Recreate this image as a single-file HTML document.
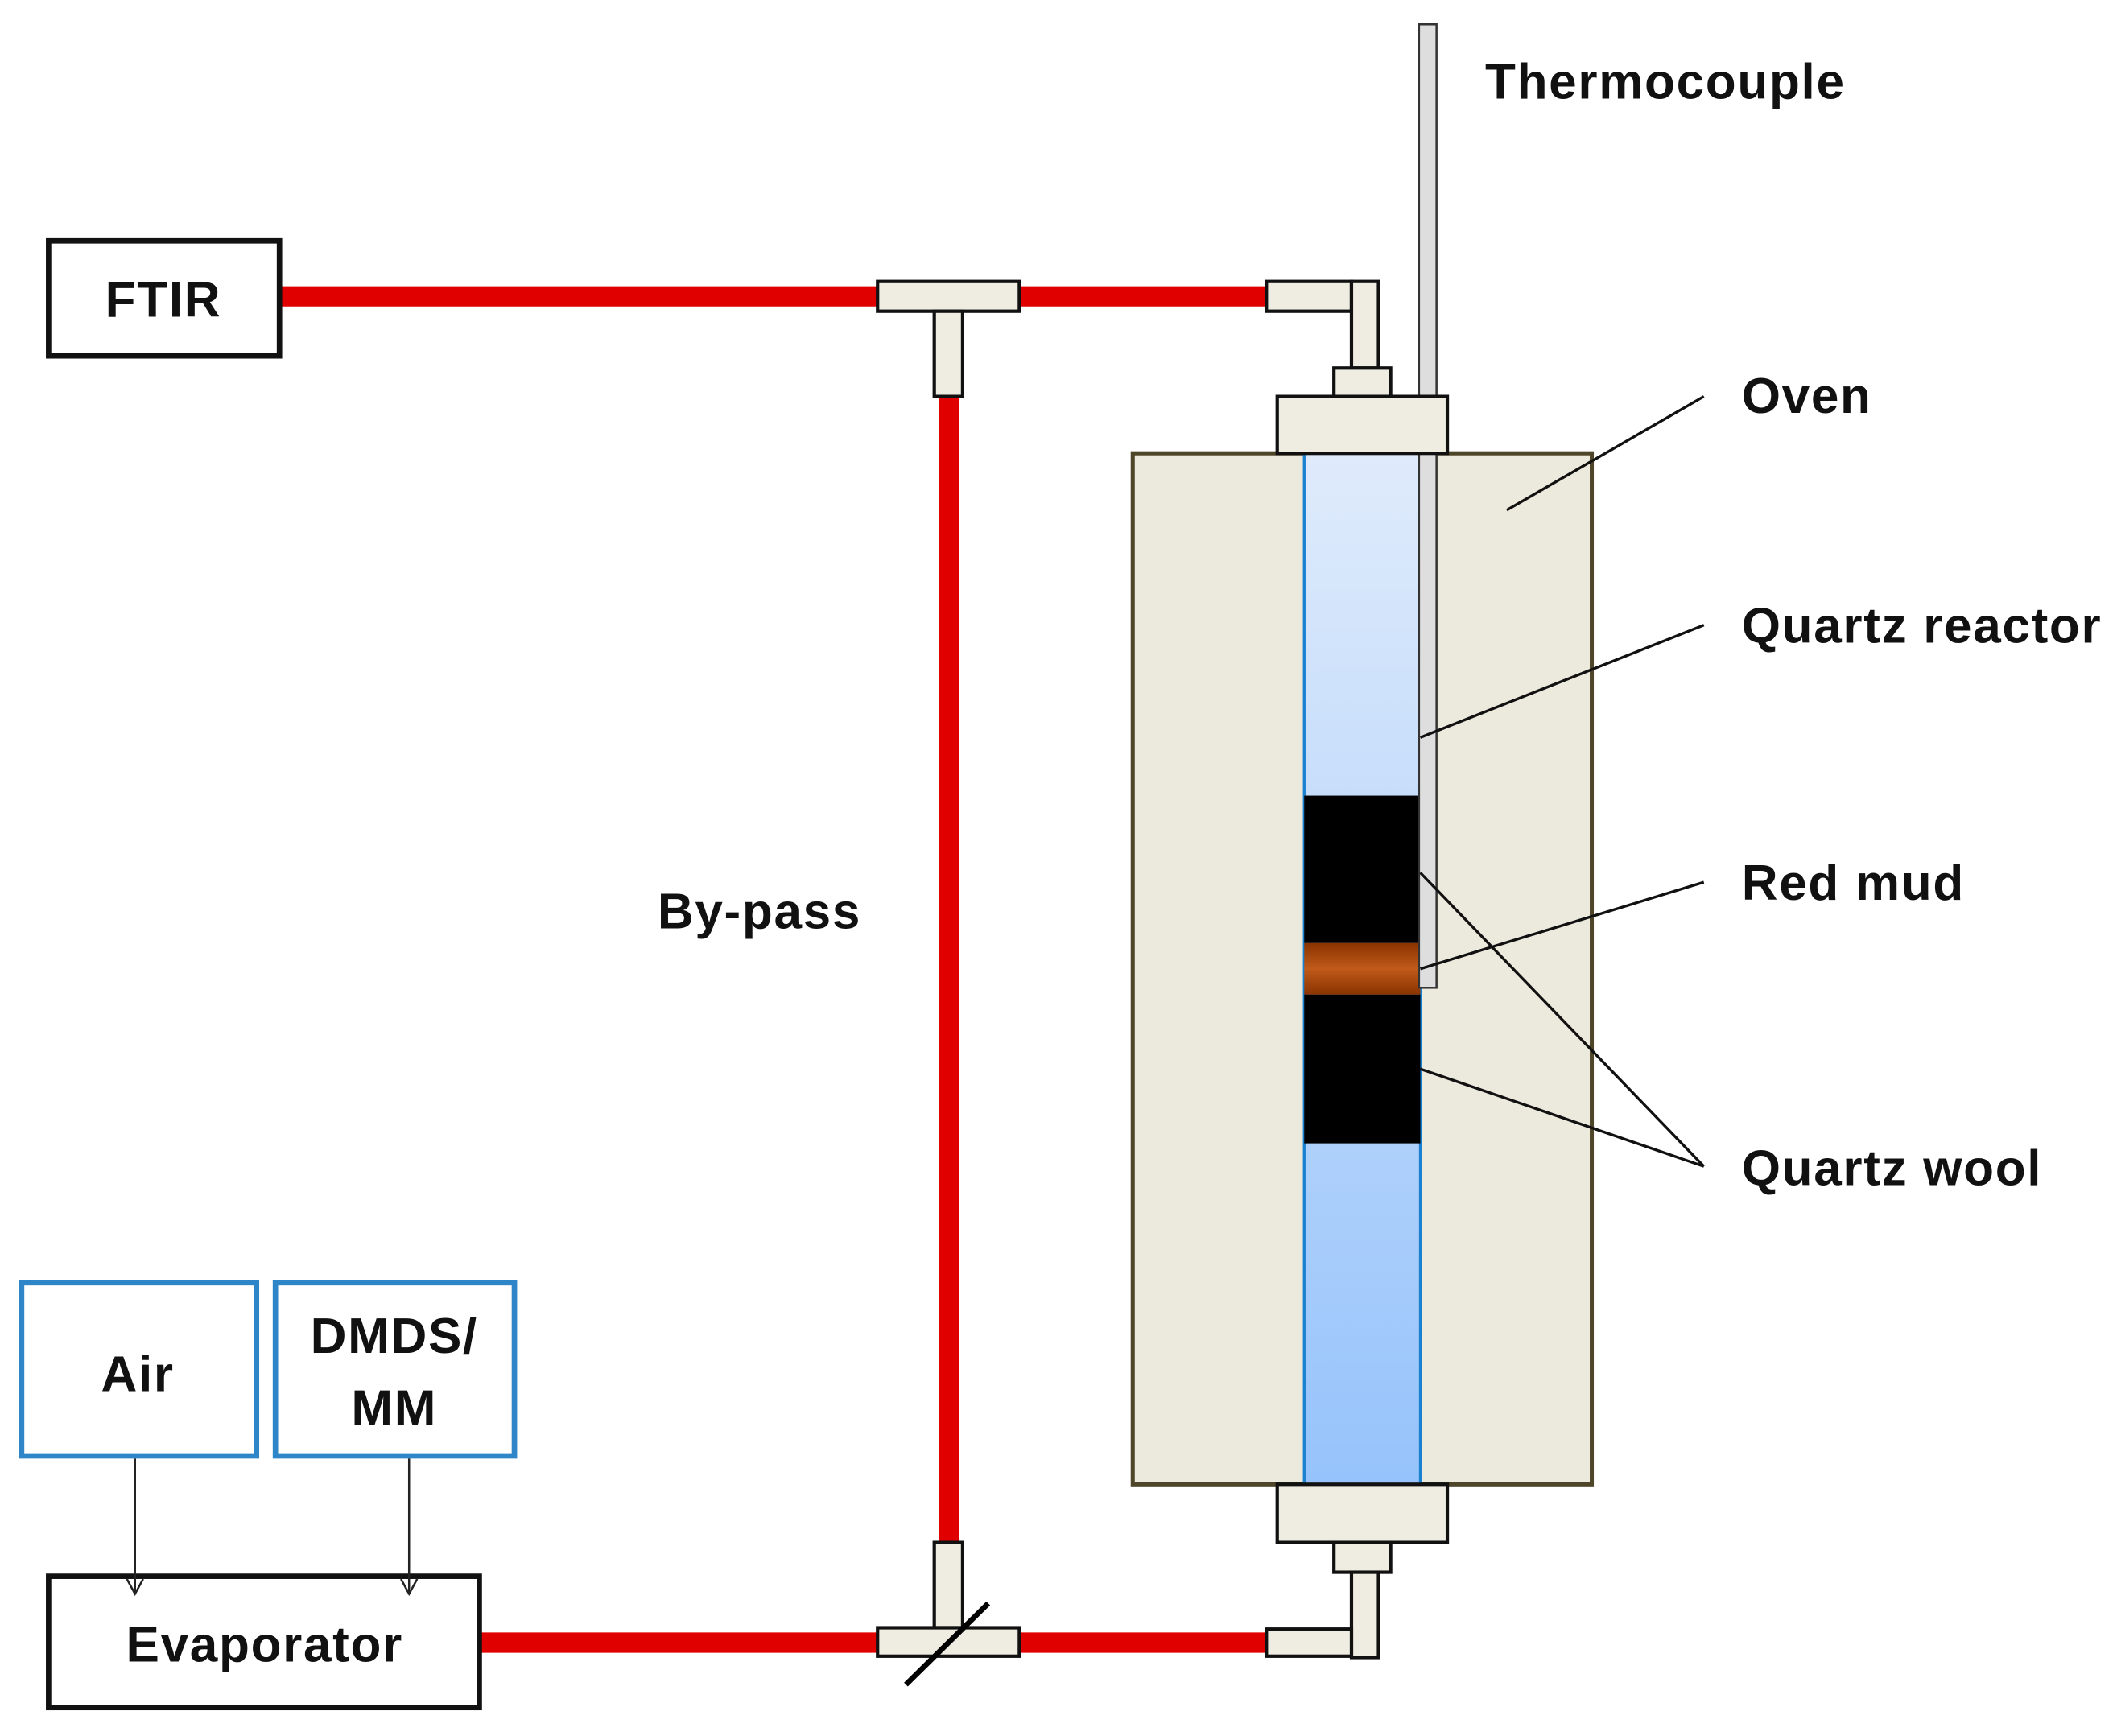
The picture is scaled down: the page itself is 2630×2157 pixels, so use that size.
<!DOCTYPE html>
<html><head><meta charset="utf-8"><style>
html,body{margin:0;padding:0;background:#fff;}
svg{display:block;}
text{font-family:"Liberation Sans",Arial,sans-serif;font-weight:bold;fill:#111;letter-spacing:1px;}
</style></head><body>
<svg width="2630" height="2157" viewBox="0 0 1568 1283" preserveAspectRatio="none" xmlns="http://www.w3.org/2000/svg">
<defs>
<linearGradient id="tube" x1="0" y1="0" x2="0" y2="1">
<stop offset="0" stop-color="#dfebfb"/><stop offset="1" stop-color="#96c3fb"/></linearGradient>
<linearGradient id="mud" x1="0" y1="0" x2="0" y2="1">
<stop offset="0" stop-color="#8a3300"/><stop offset="0.5" stop-color="#c05a1a"/><stop offset="1" stop-color="#8a3300"/></linearGradient>
<marker id="ar" markerWidth="14" markerHeight="14" refX="12" refY="7" orient="auto" markerUnits="userSpaceOnUse">
<path d="M1,1 L12,7 L1,13" fill="none" stroke="#222" stroke-width="1.5"/></marker>
</defs>
<g stroke="#e00000" stroke-width="15" fill="none">
<line x1="207" y1="219" x2="650" y2="219"/>
<line x1="755" y1="219" x2="938" y2="219"/>
<line x1="703" y1="293" x2="703" y2="1140"/>
<line x1="355" y1="1214" x2="650" y2="1214"/>
<line x1="755" y1="1214" x2="938" y2="1214"/>
</g>
<rect x="839" y="335" width="340" height="762" fill="#ece9dd" stroke="#4f4629" stroke-width="3"/>
<rect x="966" y="335" width="86" height="762" fill="url(#tube)" stroke="#1a80d0" stroke-width="2"/>
<rect x="966" y="588" width="86" height="109" fill="#000"/>
<rect x="966" y="697" width="86" height="38" fill="url(#mud)"/>
<rect x="966" y="735" width="86" height="110" fill="#000"/>
<rect x="1051" y="18" width="13" height="712" fill="#dedede" stroke="#333" stroke-width="1.5"/>
<g fill="#efede1" stroke="#111" stroke-width="2.5">
<rect x="650" y="208" width="105" height="22"/>
<rect x="692" y="230" width="21" height="63"/>
<rect x="938" y="208" width="63" height="22"/>
<rect x="1001" y="208" width="20" height="64"/>
<rect x="988" y="272" width="42" height="21"/>
<rect x="946" y="293" width="126" height="42"/>
<rect x="946" y="1097" width="126" height="43"/>
<rect x="988" y="1140" width="42" height="22"/>
<rect x="1001" y="1162" width="20" height="63"/>
<rect x="938" y="1204" width="63" height="20"/>
<rect x="692" y="1140" width="21" height="63"/>
<rect x="650" y="1203" width="105" height="21"/>
</g>
<line x1="671" y1="1245" x2="732" y2="1185" stroke="#000" stroke-width="4"/>
<rect x="36" y="178" width="171" height="85" fill="#fff" stroke="#111" stroke-width="4"/>
<rect x="36" y="1165" width="319" height="97" fill="#fff" stroke="#111" stroke-width="4"/>
<rect x="16" y="948" width="174" height="128" fill="#fff" stroke="#2e86c8" stroke-width="4"/>
<rect x="204" y="948" width="177" height="128" fill="#fff" stroke="#2e86c8" stroke-width="4"/>
<g stroke="#222" stroke-width="1.5">
<line x1="100" y1="1078" x2="100" y2="1178" marker-end="url(#ar)"/>
<line x1="303" y1="1078" x2="303" y2="1178" marker-end="url(#ar)"/>
</g>
<g stroke="#111" stroke-width="2" fill="none">
<line x1="1262" y1="293" x2="1116" y2="377"/>
<line x1="1262" y1="462" x2="1052" y2="545"/>
<line x1="1262" y1="652" x2="1052" y2="716"/>
<line x1="1262" y1="862" x2="1052" y2="645"/>
<line x1="1262" y1="862" x2="1052" y2="790"/>
</g>
<g font-size="37">
<text x="121" y="234" text-anchor="middle">FTIR</text>
<text x="196" y="1228" text-anchor="middle">Evaporator</text>
<text x="102" y="1028" text-anchor="middle">Air</text>
<text x="292" y="1000" text-anchor="middle">DMDS/</text>
<text x="292" y="1053" text-anchor="middle">MM</text>
<text x="1100" y="73">Thermocouple</text>
<text x="1290" y="305">Oven</text>
<text x="1290" y="475">Quartz reactor</text>
<text x="1290" y="665">Red mud</text>
<text x="1290" y="876">Quartz wool</text>
<text x="487" y="686">By-pass</text>
</g>
</svg>
</body></html>
